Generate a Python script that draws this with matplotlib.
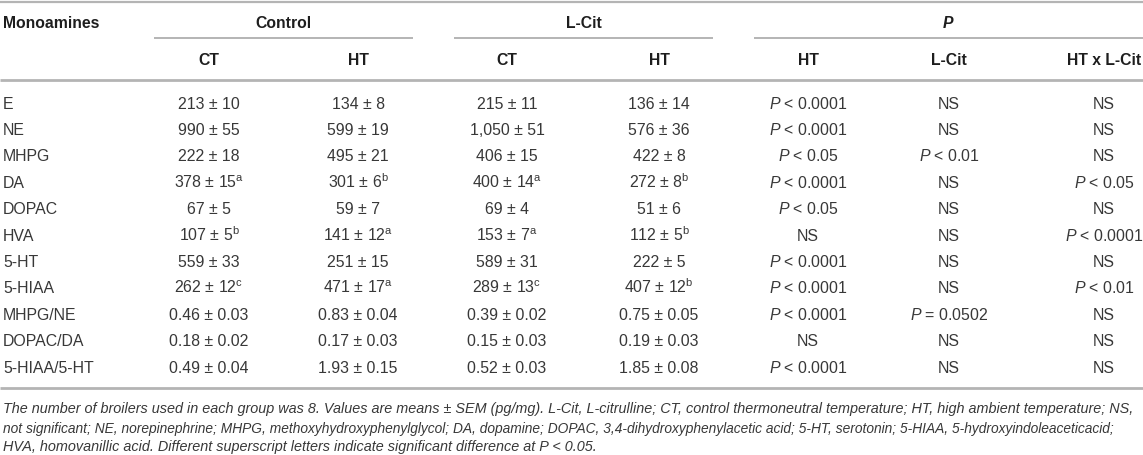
import matplotlib
matplotlib.use("Agg")
import matplotlib.pyplot as plt

plt.rcParams['font.family'] = ['Liberation Sans', 'DejaVu Sans']
plt.rcParams['mathtext.fontset'] = 'custom'
plt.rcParams['mathtext.rm'] = 'Liberation Sans'
plt.rcParams['mathtext.it'] = 'Liberation Sans:italic'
plt.rcParams['mathtext.bf'] = 'Liberation Sans:bold'

# table data
monoamines = ["E", "NE", "MHPG", "DA", "DOPAC", "HVA", "5-HT", "5-HIAA",
              "MHPG/NE", "DOPAC/DA", "5-HIAA/5-HT"]
control_ct = ["213 ± 10", "990 ± 55", "222 ± 18", "378 ± 15", "67 ± 5", "107 ± 5",
              "559 ± 33", "262 ± 12", "0.46 ± 0.03", "0.18 ± 0.02", "0.49 ± 0.04"]
control_ct_sup = ["", "", "", "a", "", "b", "", "c", "", "", ""]
control_ht = ["134 ± 8", "599 ± 19", "495 ± 21", "301 ± 6", "59 ± 7", "141 ± 12",
              "251 ± 15", "471 ± 17", "0.83 ± 0.04", "0.17 ± 0.03", "1.93 ± 0.15"]
control_ht_sup = ["", "", "", "b", "", "a", "", "a", "", "", ""]
lcit_ct = ["215 ± 11", "1,050 ± 51", "406 ± 15", "400 ± 14", "69 ± 4", "153 ± 7",
           "589 ± 31", "289 ± 13", "0.39 ± 0.02", "0.15 ± 0.03", "0.52 ± 0.03"]
lcit_ct_sup = ["", "", "", "a", "", "a", "", "c", "", "", ""]
lcit_ht = ["136 ± 14", "576 ± 36", "422 ± 8", "272 ± 8", "51 ± 6", "112 ± 5",
           "222 ± 5", "407 ± 12", "0.75 ± 0.05", "0.19 ± 0.03", "1.85 ± 0.08"]
lcit_ht_sup = ["", "", "", "b", "", "b", "", "b", "", "", ""]
p_ht = ["< 0.0001", "< 0.0001", "< 0.05", "< 0.0001", "< 0.05", "NS",
        "< 0.0001", "< 0.0001", "< 0.0001", "NS", "< 0.0001"]
p_lcit = ["NS", "NS", "< 0.01", "NS", "NS", "NS", "NS", "NS", "= 0.0502", "NS", "NS"]
p_inter = ["NS", "NS", "NS", "< 0.05", "NS", "< 0.0001", "NS", "< 0.01", "NS", "NS", "NS"]

groups = ["Control", "L-Cit", "P"]
subheaders = ["CT", "HT", "CT", "HT", "HT", "L-Cit", "HT x L-Cit"]

footnote = [
    "The number of broilers used in each group was 8. Values are means ± SEM (pg/mg). L-Cit, L-citrulline; CT, control thermoneutral temperature; HT, high ambient temperature; NS,",
    "not significant; NE, norepinephrine; MHPG, methoxyhydroxyphenylglycol; DA, dopamine; DOPAC, 3,4-dihydroxyphenylacetic acid; 5-HT, serotonin; 5-HIAA, 5-hydroxyindoleaceticacid;",
    "HVA, homovanillic acid. Different superscript letters indicate significant difference at P < 0.05.",
]


def with_sup(val, sup):
    if sup:
        return val + r"$^{\rm " + sup + "}$"
    return val


def p_text(v):
    if v == "NS":
        return v
    return r"$P$ " + v


W, H = 1143, 456
fig = plt.figure(figsize=(W / 100, H / 100), dpi=100)
ax = fig.add_axes([0, 0, 1, 1])
ax.set_xlim(0, W)
ax.set_ylim(H, 0)
ax.axis("off")

body = "#383838"
head = "#1e1e1e"
line_c = "#b4b4b4"
fs = 11.4

col_x = [209, 358, 507, 659, 808, 949, 1104]
group_x = [283, 584, 948]
group_spans = [(154, 413), (454, 713), (754, 1143)]
row_y0, row_dy = 103, 26.4
base_off = 5.6

# rules
ax.plot([0, W], [3, 3], color=line_c, lw=1.6, solid_capstyle="butt")
ax.plot([0, W], [81, 81], color=line_c, lw=2.0, solid_capstyle="butt")
ax.plot([0, W], [389, 389], color=line_c, lw=2.0, solid_capstyle="butt")
for x0, x1 in group_spans:
    ax.plot([x0, x1], [39, 39], color=line_c, lw=1.4, solid_capstyle="butt")

# headers
ax.text(3, 22 + base_off, "Monoamines", ha="left", va="baseline",
        fontsize=11.3, fontweight="bold", color=head)
for gx, g in zip(group_x, groups):
    st = "italic" if g == "P" else "normal"
    ax.text(gx, 22 + base_off, g, ha="center", va="baseline", fontsize=11.3,
            fontweight="bold", fontstyle=st, color=head)
for cx, s in zip(col_x, subheaders):
    ax.text(cx, 59 + base_off, s, ha="center", va="baseline", fontsize=11.3,
            fontweight="bold", color=head)

# body rows
for i, name in enumerate(monoamines):
    y = row_y0 + i * row_dy + base_off
    ax.text(3, y, name, ha="left", va="baseline", fontsize=fs, color=body)
    cells = [
        with_sup(control_ct[i], control_ct_sup[i]),
        with_sup(control_ht[i], control_ht_sup[i]),
        with_sup(lcit_ct[i], lcit_ct_sup[i]),
        with_sup(lcit_ht[i], lcit_ht_sup[i]),
        p_text(p_ht[i]),
        p_text(p_lcit[i]),
        p_text(p_inter[i]),
    ]
    for cx, c in zip(col_x, cells):
        ax.text(cx, y, c, ha="center", va="baseline", fontsize=fs, color=body)

# footnote (second line a touch smaller so both long lines end at the same edge)
fn_sizes = [10.4, 9.9, 10.4]
for j, line in enumerate(footnote):
    ax.text(3, [408, 428, 446][j] + 4.8, line, ha="left", va="baseline",
            fontsize=fn_sizes[j], fontstyle="italic", color=body)

fig.savefig("out.png", dpi=100)
